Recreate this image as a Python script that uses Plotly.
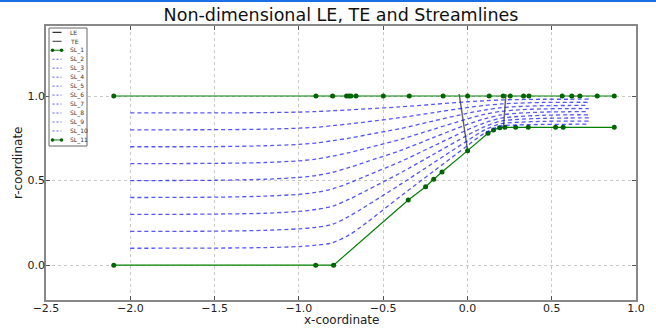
import plotly.graph_objects as go

# ---------------- data ----------------
LE_x = [0.001, -0.049]
LE_r = [0.677, 1.012]
TE_x = [0.215, 0.228]
TE_r = [0.829, 1.012]

hub_x = [-2.098, -0.900, -0.794, -0.351, -0.248, -0.200, -0.151, 0.001, 0.122,
         0.155, 0.191, 0.222, 0.286, 0.361, 0.523, 0.568, 0.871]
hub_r = [0.0, 0.0, 0.0, 0.385, 0.464, 0.508, 0.551, 0.677, 0.780,
         0.799, 0.813, 0.815, 0.815, 0.815, 0.815, 0.815, 0.815]

shroud_x = [-2.098, -0.899, -0.800, -0.717, -0.703, -0.691, -0.661, -0.499, -0.345,
            -0.144, 0.001, 0.129, 0.212, 0.254, 0.333, 0.365, 0.562, 0.619, 0.667,
            0.770, 0.871]
shroud_r = [1.0, 1.0, 1.0, 1.0, 1.0, 1.0, 1.0, 1.0, 1.0, 1.0, 1.0, 1.0, 1.0, 1.0,
            1.0, 1.0, 1.0, 1.0, 1.0, 1.0, 1.0]

sl_x = [-2.0, -1.5, -1.2, -1.0, -0.9, -0.8, -0.7, -0.6, -0.4, -0.2, 0.0, 0.1, 0.2, 0.3, 0.45, 0.6, 0.72]
SL_2 = [0.100, 0.101, 0.104, 0.110, 0.118, 0.133, 0.180, 0.250, 0.405, 0.556, 0.706, 0.779, 0.823, 0.829, 0.832, 0.833, 0.834]
SL_3 = [0.200, 0.201, 0.206, 0.215, 0.224, 0.242, 0.290, 0.350, 0.476, 0.606, 0.736, 0.798, 0.836, 0.845, 0.850, 0.852, 0.852]
SL_4 = [0.300, 0.302, 0.307, 0.318, 0.329, 0.349, 0.391, 0.441, 0.544, 0.656, 0.768, 0.818, 0.852, 0.862, 0.868, 0.870, 0.871]
SL_5 = [0.400, 0.402, 0.408, 0.419, 0.430, 0.451, 0.486, 0.528, 0.611, 0.705, 0.800, 0.841, 0.869, 0.879, 0.886, 0.889, 0.889]
SL_6 = [0.500, 0.502, 0.508, 0.519, 0.530, 0.549, 0.578, 0.611, 0.677, 0.755, 0.832, 0.865, 0.888, 0.898, 0.905, 0.907, 0.908]
SL_7 = [0.600, 0.602, 0.607, 0.617, 0.627, 0.644, 0.666, 0.691, 0.743, 0.804, 0.865, 0.891, 0.909, 0.918, 0.924, 0.926, 0.926]
SL_8 = [0.700, 0.701, 0.706, 0.714, 0.722, 0.736, 0.751, 0.770, 0.807, 0.853, 0.898, 0.917, 0.931, 0.938, 0.943, 0.944, 0.945]
SL_9 = [0.800, 0.801, 0.804, 0.810, 0.815, 0.825, 0.835, 0.847, 0.872, 0.902, 0.932, 0.944, 0.953, 0.958, 0.962, 0.963, 0.963]
SL_10 = [0.900, 0.900, 0.902, 0.905, 0.908, 0.913, 0.918, 0.924, 0.936, 0.951, 0.966, 0.972, 0.977, 0.979, 0.981, 0.981, 0.982]

legend_names = ["LE", "TE", "SL_1", "SL_2", "SL_3", "SL_4", "SL_5", "SL_6",
                "SL_7", "SL_8", "SL_9", "SL_10", "SL_11"]

x_ticks = [-2.5, -2.0, -1.5, -1.0, -0.5, 0.0, 0.5, 1.0]
y_ticks = [0.0, 0.5, 1.0]

# ---------------- styling ----------------
FONT = "DejaVu Sans"
W, H = 656, 329
ML, MR, MT, MB = 46, 20, 26, 29
PW, PH = W - ML - MR, H - MT - MB
GREEN = "#008000"
MARK = "#006400"
BLUE = "rgba(20,20,255,0.72)"
EDGE = "rgba(0,0,0,0.6)"

def px2paper(px, py):
    return (px - ML) / PW, (H - MB - py) / PH

fig = go.Figure()

fig.add_trace(go.Scatter(x=LE_x, y=LE_r, mode="lines", name="LE",
                         line=dict(color=EDGE, width=1.5), showlegend=False))
fig.add_trace(go.Scatter(x=TE_x, y=TE_r, mode="lines", name="TE",
                         line=dict(color=EDGE, width=1.5), showlegend=False))
fig.add_trace(go.Scatter(x=hub_x, y=hub_r, mode="lines+markers", name="SL_1",
                         line=dict(color=GREEN, width=1.2),
                         marker=dict(color=MARK, size=5), showlegend=False))
for nm, ys in zip(legend_names[3:12], [SL_2, SL_3, SL_4, SL_5, SL_6, SL_7, SL_8, SL_9, SL_10]):
    fig.add_trace(go.Scatter(x=sl_x, y=ys, mode="lines", name=nm,
                             line=dict(color=BLUE, width=1.3, dash="4px,3px",
                                       shape="spline", smoothing=0.9),
                             showlegend=False))
fig.add_trace(go.Scatter(x=shroud_x, y=shroud_r, mode="lines+markers", name="SL_11",
                         line=dict(color=GREEN, width=1.2),
                         marker=dict(color=MARK, size=5), showlegend=False))

shapes = []
annotations = []

# top blue strip of the screenshot
bx0, by0 = px2paper(0, 0)
bx1, by1 = px2paper(W, 2)
shapes.append(dict(type="rect", xref="paper", yref="paper", x0=bx0, x1=bx1, y0=by1, y1=by0,
                   fillcolor="#1a6fe6", line=dict(width=0), layer="above"))

# manual compact legend
lx0, ly0 = px2paper(49, 146)
lx1, ly1 = px2paper(87, 28)
shapes.append(dict(type="rect", xref="paper", yref="paper", x0=lx0, x1=lx1, y0=ly0, y1=ly1,
                   fillcolor="white", line=dict(color="#666666", width=1), layer="above"))
for i, nm in enumerate(legend_names):
    py = 32.3 + 8.97 * i
    sx0, sy = px2paper(52.5, py)
    sx1, _ = px2paper(61.5, py)
    tx, _ = px2paper(67.5, py)
    if nm in ("LE", "TE"):
        shapes.append(dict(type="line", xref="paper", yref="paper", x0=sx0, x1=sx1, y0=sy, y1=sy,
                           line=dict(color="black" if nm == "LE" else "#333333", width=1), layer="above"))
    elif nm in ("SL_1", "SL_11"):
        shapes.append(dict(type="line", xref="paper", yref="paper", x0=sx0, x1=sx1, y0=sy, y1=sy,
                           line=dict(color=GREEN, width=1), layer="above"))
        for cx in (52.5, 61.5):
            cxp, cyp = px2paper(cx, py)
            shapes.append(dict(type="circle", xref="paper", yref="paper",
                               xsizemode="pixel", ysizemode="pixel", xanchor=cxp, yanchor=cyp,
                               x0=-1.8, x1=1.8, y0=-1.8, y1=1.8,
                               fillcolor=MARK, line=dict(width=0), layer="above"))
    else:
        shapes.append(dict(type="line", xref="paper", yref="paper", x0=sx0, x1=sx1, y0=sy, y1=sy,
                           line=dict(color=BLUE, width=1, dash="2px,2px"), layer="above"))
    annotations.append(dict(text=nm, xref="paper", yref="paper", x=tx, y=sy,
                            xanchor="left", yanchor="middle", showarrow=False,
                            font=dict(family=FONT, size=6, color="#333333")))

# axis titles placed as text at their reference positions
xtx, xty = px2paper(341, 320)
annotations.append(dict(text="x-coordinate", xref="paper", yref="paper", x=xtx, y=xty,
                        xanchor="center", yanchor="middle", showarrow=False,
                        font=dict(family=FONT, size=12, color="#222222")))
ytx, yty = px2paper(18, 163)
annotations.append(dict(text="r-coordinate", xref="paper", yref="paper", x=ytx, y=yty,
                        xanchor="center", yanchor="middle", showarrow=False, textangle=-90,
                        font=dict(family=FONT, size=12, color="#222222")))

axis_common = dict(showgrid=True, gridcolor="#c8c8c8", griddash="dot", gridwidth=1,
                   zeroline=False, showline=True, linecolor="#888888", linewidth=1.5,
                   mirror="ticks", ticks="inside", ticklen=4, tickcolor="#555555",
                   automargin=False, ticklabelstandoff=-3,
                   tickfont=dict(family=FONT, size=11, color="#222222"))

fig.update_layout(
    width=W, height=H,
    margin=dict(l=ML, r=MR, t=MT, b=MB, pad=0),
    paper_bgcolor="white", plot_bgcolor="white",
    showlegend=False,
    title=dict(text="Non-dimensional LE, TE and Streamlines", x=(ML + PW / 2) / W, xanchor="center",
               y=1 - 15 / H, yanchor="middle", yref="container",
               font=dict(family=FONT, size=17.5, color="#111111")),
    xaxis=dict(range=[-2.5, 1.0], tickvals=x_ticks, tickformat=".1f", **axis_common),
    yaxis=dict(range=[-0.206, 1.414], tickvals=y_ticks, tickformat=".1f", **axis_common),
    shapes=shapes,
    annotations=annotations,
)

fig.write_html("out.html")
